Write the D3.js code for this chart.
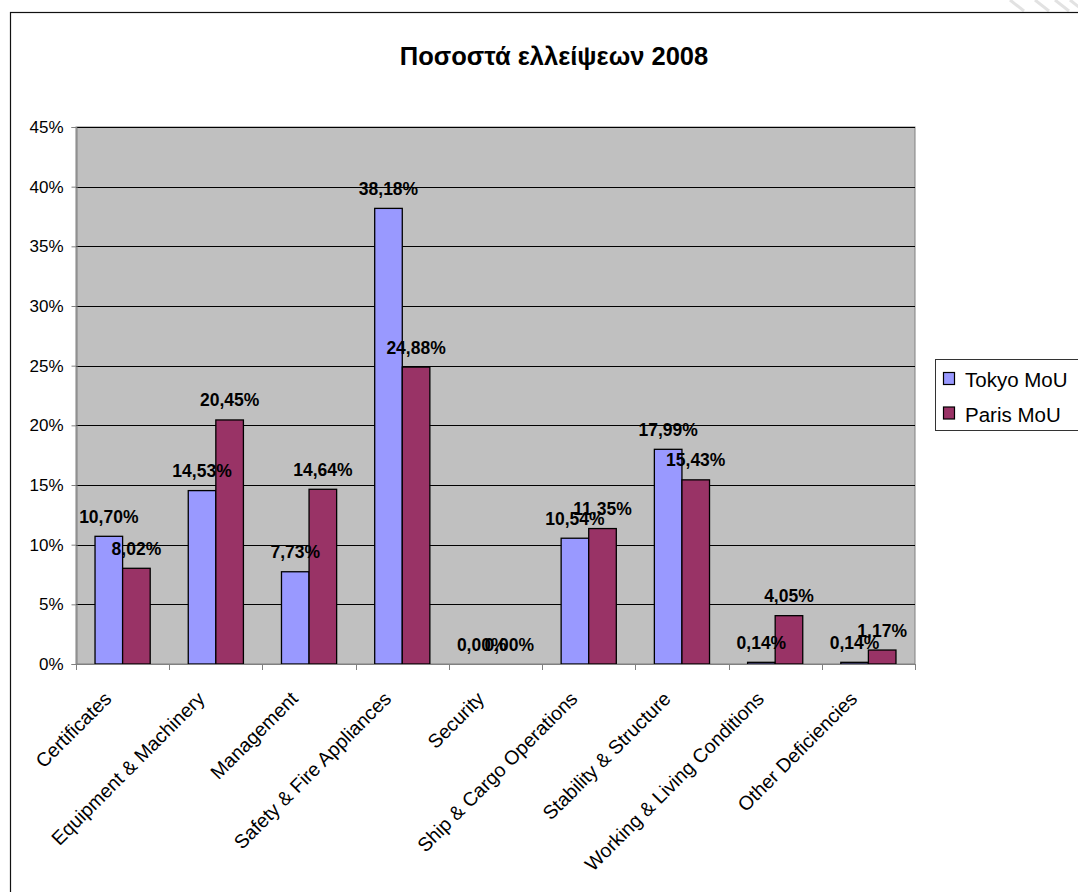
<!DOCTYPE html>
<html>
<head>
<meta charset="utf-8">
<script src="https://cdn.jsdelivr.net/npm/d3@7"></script>
<style>
  html, body { margin: 0; padding: 0; background: #fff; }
  svg { display: block; font-family: "Liberation Sans", Arial, sans-serif; }
</style>
</head>
<body>
<svg id="chart" width="1078" height="892"></svg>
<script>
const categories = [
  "Certificates", "Equipment & Machinery", "Management", "Safety & Fire Appliances",
  "Security", "Ship & Cargo Operations", "Stability & Structure",
  "Working & Living Conditions", "Other Deficiencies"
];
const seriesNames = ["Tokyo MoU", "Paris MoU"];
const tokyoValues = [10.70, 14.53, 7.73, 38.18, 0.00, 10.54, 17.99, 0.14, 0.14];
const parisValues = [8.02, 20.45, 14.64, 24.88, 0.00, 11.35, 15.43, 4.05, 1.17];
const yTicks = [0, 5, 10, 15, 20, 25, 30, 35, 40, 45];
const seriesColors = ["#9999FF", "#993366"];

const svg = d3.select("#chart");

// faint background stripes at the top-right corner, above the chart frame
const stripes = svg.append("g").attr("stroke", "#e2e2e2").attr("stroke-width", 3);
[1010, 1035, 1055, 1070].forEach(x0 => {
  stripes.append("line")
    .attr("x1", x0).attr("y1", 0).attr("x2", x0 + 14).attr("y2", 11);
});

// outer chart frame
svg.append("rect")
  .attr("x", 10.5).attr("y", 12.5)
  .attr("width", 1100).attr("height", 900)
  .attr("fill", "#fff").attr("stroke", "#111").attr("stroke-width", 1.2);

// title
svg.append("text")
  .attr("x", 554).attr("y", 65)
  .attr("text-anchor", "middle")
  .attr("font-size", 25.5).attr("font-weight", "bold")
  .text("Ποσοστά ελλείψεων 2008");

const plot = { left: 76, right: 915, top: 127, bottom: 664 };

const x = d3.scaleBand()
  .domain(categories)
  .range([plot.left, plot.right])
  .paddingInner(0).paddingOuter(0);

const xSeries = d3.scaleBand()
  .domain(seriesNames)
  .range([0, x.bandwidth()])
  .paddingInner(0)
  .paddingOuter(0.69);

const y = d3.scaleLinear().domain([0, 45]).range([plot.bottom, plot.top]);

// plot area
svg.append("rect")
  .attr("x", plot.left).attr("y", plot.top)
  .attr("width", plot.right - plot.left).attr("height", plot.bottom - plot.top)
  .attr("fill", "#C0C0C0").attr("stroke", "#808080").attr("stroke-width", 1);

// gridlines
svg.append("g")
  .selectAll("line")
  .data(yTicks.filter(t => t > 0))
  .join("line")
  .attr("x1", plot.left).attr("x2", plot.right)
  .attr("y1", d => Math.round(y(d)) + 0.5).attr("y2", d => Math.round(y(d)) + 0.5)
  .attr("stroke", "#000").attr("stroke-width", 1);

// y axis
const yAxis = svg.append("g")
  .attr("transform", `translate(${plot.left + 0.5},0)`)
  .call(d3.axisLeft(y).tickValues(yTicks).tickSize(5).tickPadding(8).tickFormat(d => d + "%"));
yAxis.select(".domain").attr("stroke", "#808080");
yAxis.selectAll(".tick line").attr("stroke", "#808080");
yAxis.selectAll(".tick text").attr("font-size", 17).attr("fill", "#000")
  .attr("font-family", "Liberation Sans, Arial, sans-serif");

// bars
const data = categories.map((c, i) => ({
  category: c,
  values: [
    { series: seriesNames[0], value: tokyoValues[i] },
    { series: seriesNames[1], value: parisValues[i] }
  ]
}));

const groups = svg.append("g")
  .selectAll("g")
  .data(data)
  .join("g")
  .attr("transform", d => `translate(${x(d.category)},0)`);

groups.selectAll("rect")
  .data(d => d.values)
  .join("rect")
  .attr("x", d => xSeries(d.series))
  .attr("y", d => y(d.value))
  .attr("width", xSeries.bandwidth())
  .attr("height", d => y(0) - y(d.value))
  .attr("fill", (d, i) => seriesColors[i])
  .attr("stroke", "#000").attr("stroke-width", 1.3);

// x axis line and ticks at category boundaries
svg.append("line")
  .attr("x1", plot.left).attr("x2", plot.right)
  .attr("y1", plot.bottom + 0.5).attr("y2", plot.bottom + 0.5)
  .attr("stroke", "#808080");
const boundaries = categories.map(c => x(c)).concat([plot.right]);
svg.append("g").selectAll("line")
  .data(boundaries)
  .join("line")
  .attr("x1", d => Math.round(d) + 0.5).attr("x2", d => Math.round(d) + 0.5)
  .attr("y1", plot.bottom).attr("y2", plot.bottom + 6)
  .attr("stroke", "#808080");

// value labels
const fmt = v => v.toFixed(2).replace(".", ",") + "%";
groups.selectAll("text.val")
  .data(d => d.values)
  .join("text")
  .attr("class", "val")
  .attr("x", d => xSeries(d.series) + xSeries.bandwidth() / 2)
  .attr("y", d => y(d.value) - 13.5)
  .attr("text-anchor", "middle")
  .attr("font-size", 17.5).attr("font-weight", "bold")
  .text(d => fmt(d.value));

// category labels, rotated
svg.append("g").selectAll("text")
  .data(categories)
  .join("text")
  .attr("text-anchor", "end")
  .attr("font-size", 19.5)
  .attr("transform", d => `translate(${x(d) + x.bandwidth() / 2 - 10},${plot.bottom + 36}) rotate(-45)`)
  .text(d => d);

// legend
const legend = svg.append("g");
legend.append("rect")
  .attr("x", 935.5).attr("y", 359.5).attr("width", 160).attr("height", 71)
  .attr("fill", "#fff").attr("stroke", "#333");
seriesNames.forEach((name, i) => {
  const ly = 387 + i * 34.5;
  legend.append("rect")
    .attr("x", 943.5).attr("y", ly - 14.5).attr("width", 11).attr("height", 12)
    .attr("fill", seriesColors[i]).attr("stroke", "#000").attr("stroke-width", 1.2);
  legend.append("text")
    .attr("x", 965).attr("y", ly)
    .attr("font-size", 20.5)
    .text(name);
});
</script>
</body>
</html>
